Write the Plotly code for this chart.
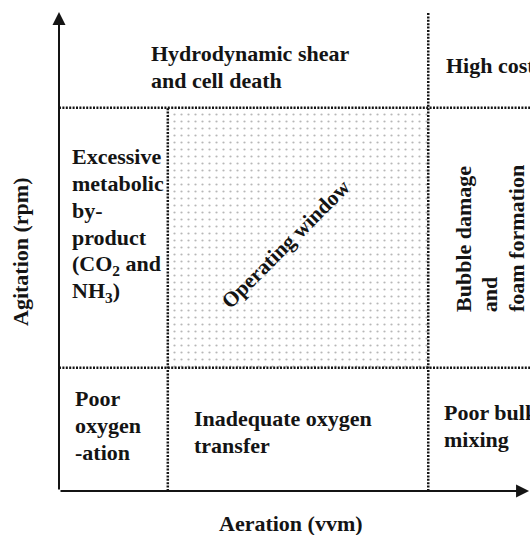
import plotly.graph_objects as go

# ---------------- data ----------------
# normalised zone edges along each axis (0 = origin, 1 = end of axis)
aeration_edges = [0.0, 0.231, 0.784, 1.0]
agitation_edges = [0.0, 0.258, 0.802, 1.0]

region_labels = [
    ["Hydrodynamic shear", "and cell death"],
    ["High cost"],
    ["Excessive", "metabolic", "by-", "product", "(CO<sub>2</sub> and", "NH<sub>3</sub>)"],
    ["Poor", "oxygen", "-ation"],
    ["Inadequate oxygen", "transfer"],
    ["Poor bulk", "mixing"],
]
side_label = ["Bubble damage", "and", "foam formation"]
window_label = "Operating window"
x_title = "Aeration (vvm)"
y_title = "Agitation (rpm)"

# ---------------- layout helpers ----------------
W, H = 530, 535
ML, MR, MT, MB = 59, 0, 13, 44
PW, PH = W - ML - MR, H - MT - MB


def dx(px):
    return (px - ML) / PW


def dy(py):
    return (H - MB - py) / PH


FONT = "Liberation Serif"
FS = 22
LINE = 26.8
INK = "#141414"

# label anchor positions in pixels (left edge, first baseline)
label_pos = [(150, 60), (445, 72), (71, 163), (74, 405), (193, 425), (443, 419)]

fig = go.Figure()

x0, x1, x2, x3 = aeration_edges
y0, y1, y2, y3 = agitation_edges

# operating window (dotted shading)
fig.add_trace(go.Scatter(
    x=[x1, x2, x2, x1, x1], y=[y1, y1, y2, y2, y1],
    mode="lines", fill="toself", line=dict(width=0),
    fillcolor="rgba(0,0,0,0)",
    fillpattern=dict(shape=".", fgcolor="#707070", bgcolor="white", size=7, solidity=0.08),
    hoverinfo="skip", showlegend=False,
))

dash = "2px,1.4px"
lw = 2.5
segments = [
    ([x0, x3], [y1, y1]),
    ([x0, x3], [y2, y2]),
    ([x1, x1], [y0, y2]),
    ([x2, x2], [y0, y3]),
]
for xs, ys in segments:
    fig.add_trace(go.Scatter(x=xs, y=ys, mode="lines",
                             line=dict(color=INK, width=lw, dash=dash),
                             hoverinfo="skip", showlegend=False))

annotations = []
# axes with arrows
annotations.append(dict(x=x0, y=y3 + 0.002, ax=x0, ay=y0, xref="x", yref="y", axref="x", ayref="y",
                        showarrow=True, arrowhead=2, arrowsize=1.3, arrowwidth=2, arrowcolor=INK, text=""))
annotations.append(dict(x=x3 - 0.002, y=y0, ax=x0, ay=y0, xref="x", yref="y", axref="x", ayref="y",
                        showarrow=True, arrowhead=2, arrowsize=1.3, arrowwidth=2, arrowcolor=INK, text=""))


def text_line(txt, px, py_base, size=FS):
    return dict(x=dx(px), y=dy(py_base - 0.9 * size), xref="paper", yref="paper", text="<b>" + txt + "</b>",
                showarrow=False, xanchor="left", yanchor="top", align="left", borderpad=0,
                font=dict(family=FONT, size=size, color=INK))


for lines, (px, pb) in zip(region_labels, label_pos):
    for i, ln in enumerate(lines):
        annotations.append(text_line(ln, px, pb + i * LINE))

# vertical side label (reads bottom to top), columns spaced by line height
for i, ln in enumerate(side_label):
    annotations.append(dict(x=dx(463 + i * LINE), y=dy(313), xref="paper", yref="paper", text="<b>" + ln + "</b>",
                            showarrow=False, xanchor="center", yanchor="bottom", textangle=-90, borderpad=0,
                            font=dict(family=FONT, size=FS, color=INK)))

annotations.append(dict(x=dx(286), y=dy(244), xref="paper", yref="paper", text="<b>" + window_label + "</b>",
                        showarrow=False, xanchor="center", yanchor="middle", textangle=-45, borderpad=0,
                        font=dict(family=FONT, size=21.5, color=INK)))

annotations.append(dict(x=dx(291), y=dy(530 - 0.9 * FS), xref="paper", yref="paper", text="<b>" + x_title + "</b>",
                        showarrow=False, xanchor="center", yanchor="top", borderpad=0,
                        font=dict(family=FONT, size=FS, color=INK)))
annotations.append(dict(x=dx(20), y=dy(252), xref="paper", yref="paper", text="<b>" + y_title + "</b>",
                        showarrow=False, xanchor="center", yanchor="middle", textangle=-90, borderpad=0,
                        font=dict(family=FONT, size=FS, color=INK)))

fig.update_layout(
    width=W, height=H,
    margin=dict(l=ML, r=MR, t=MT, b=MB, pad=0),
    paper_bgcolor="white", plot_bgcolor="white",
    xaxis=dict(range=[0, 1], visible=False, fixedrange=True),
    yaxis=dict(range=[0, 1], visible=False, fixedrange=True),
    annotations=annotations,
    showlegend=False,
)

fig.write_html("out.html", config={"displayModeBar": False},
               post_script="document.body.style.margin='0px';")
